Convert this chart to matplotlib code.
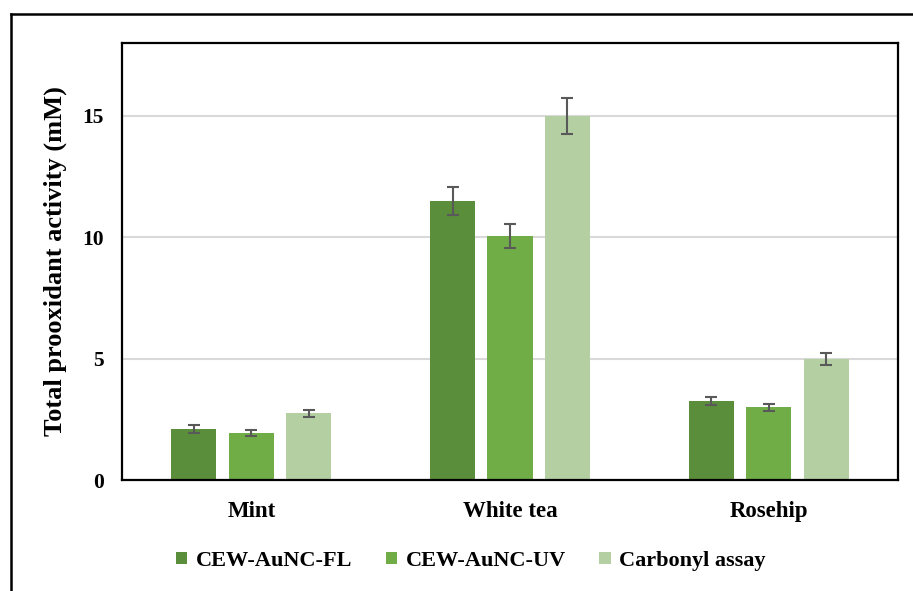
import matplotlib
matplotlib.use("Agg")
import matplotlib.pyplot as plt
from matplotlib.lines import Line2D
import numpy as np

categories = ["Mint", "White tea", "Rosehip"]
series_names = ["CEW-AuNC-FL", "CEW-AuNC-UV", "Carbonyl assay"]
fl_vals = [2.1, 11.5, 3.25]
uv_vals = [1.95, 10.05, 3.0]
carb_vals = [2.75, 15.0, 5.0]
fl_err = [0.15, 0.57, 0.15]
uv_err = [0.12, 0.5, 0.15]
carb_err = [0.15, 0.73, 0.25]
yticks = [0, 5, 10, 15]

colors = ["#5B8E3B", "#70AD47", "#B4CFA2"]

plt.rcParams['font.family'] = ['Liberation Serif', 'DejaVu Serif']
plt.rcParams['font.weight'] = 'bold'

W, H = 913, 591
fig = plt.figure(figsize=(W/100, H/100), dpi=100)
ax = fig.add_axes([122/W, 1-480/H, (898-122)/W, (480-43)/H])

x = np.arange(len(categories))
bw = 0.174
step = 0.222
vals = [fl_vals, uv_vals, carb_vals]
errs = [fl_err, uv_err, carb_err]
for i, (v, e, c, n) in enumerate(zip(vals, errs, colors, series_names)):
    ax.bar(x + (i-1)*step, v, bw, color=c, label=n, zorder=2,
           yerr=e, error_kw=dict(ecolor="#595959", elinewidth=1.5, capsize=4, capthick=1.5, zorder=3))

ax.set_xlim(-0.5, 2.5)
ax.set_ylim(0, 18)
ax.set_yticks(yticks)
ax.set_yticklabels([str(t) for t in yticks], fontsize=15.5, fontweight='bold')
ax.set_xticks(x)
ax.set_xticklabels(categories, fontsize=16.5, fontweight='bold')
ax.tick_params(axis='both', length=0)
ax.tick_params(axis='y', pad=13)
ax.tick_params(axis='x', pad=15)
ax.grid(axis='y', color='#D9D9D9', linewidth=1.5, zorder=0)
ax.set_axisbelow(True)
for s in ax.spines.values():
    s.set_linewidth(1.6)
    s.set_color('black')
ax.set_ylabel("Total prooxidant activity (mM)", fontsize=19, fontweight='bold')
ax.yaxis.set_label_coords(-0.071, 0.5)

leg = fig.legend(loc='center', bbox_to_anchor=(471/W, 1-561/H), ncol=3, frameon=False,
                 prop=dict(size=16, weight='bold'), handlelength=0.5, handleheight=0.5,
                 handletextpad=0.4, columnspacing=1.5)

fig.add_artist(Line2D([11/W, 11/W], [0, 1-14/H], color='black', linewidth=1.8, transform=fig.transFigure))
fig.add_artist(Line2D([11/W, 1], [1-14/H, 1-14/H], color='black', linewidth=1.8, transform=fig.transFigure))

fig.savefig("out.png", dpi=100)
